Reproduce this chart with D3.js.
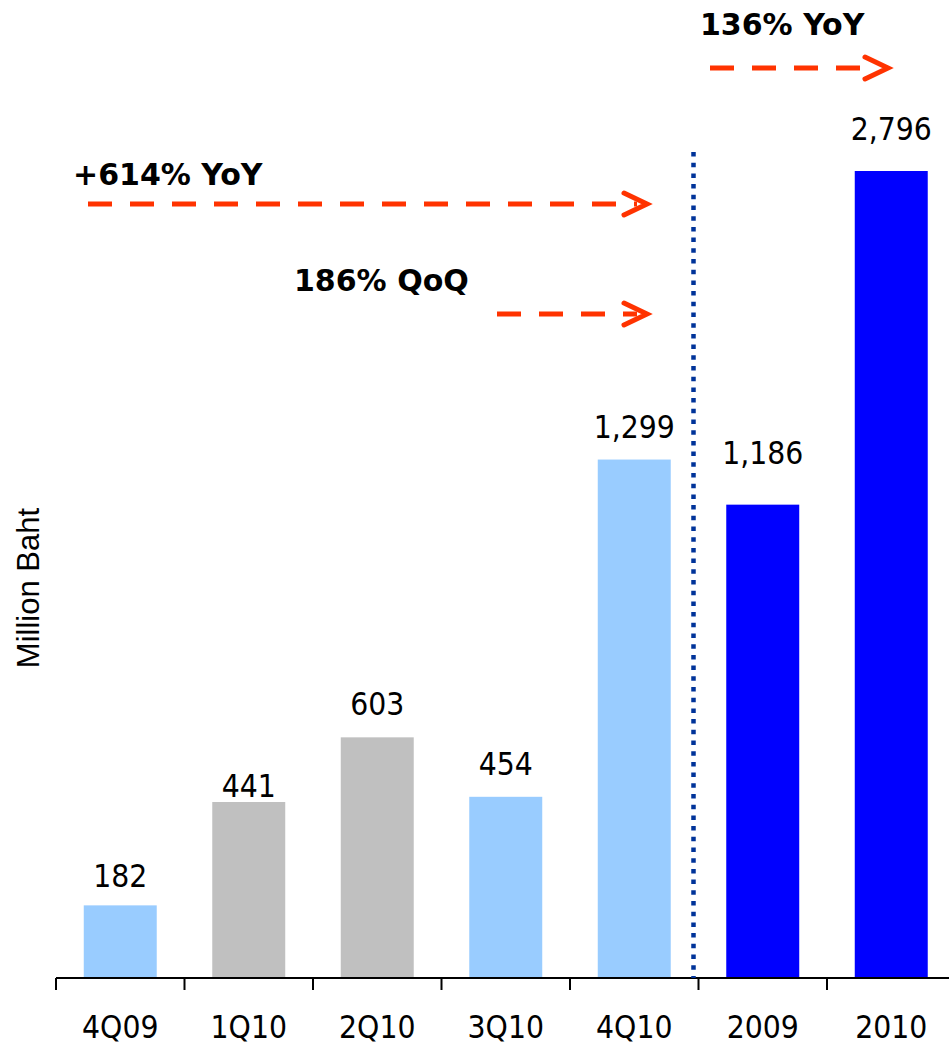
<!DOCTYPE html>
<html>
<head>
<meta charset="utf-8">
<script src="https://cdn.jsdelivr.net/npm/d3@7"></script>
<style>
  html, body { margin: 0; padding: 0; background: #fff; }
  svg { display: block; }
</style>
</head>
<body>
<svg id="chart" width="949" height="1049"></svg>
<script>
// Net profit by period (Million Baht)
const categories = ["4Q09", "1Q10", "2Q10", "3Q10", "4Q10", "2009", "2010"];
const values = [182, 441, 603, 454, 1299, 1186, 2796];
const groups = ["quarter", "quarter10", "quarter10", "quarter", "quarter", "year", "year"];
const valueLabels = ["182", "441", "603", "454", "1,299", "1,186", "2,796"];
const growthNotes = ["+614% YoY", "186% QoQ", "136% YoY"];
const axisTitle = "Million Baht";

const fillByGroup = { quarter: "#99ccff", quarter10: "#c0c0c0", year: "#0000ff" };
const labelFont = "'DejaVu Sans Condensed', 'DejaVu Sans', sans-serif";
const accent = "#ff3300";

const svg = d3.select("#chart");

const baseY = 978, topY = 171;
const x = d3.scaleBand()
  .domain(categories)
  .range([56, 955.5])
  .paddingInner(0.432)
  .paddingOuter(0.216);

// value axis is capped at the plot top; the 2010 bar runs into that cap
const y = d3.scaleLinear().domain([0, 2022]).range([baseY, topY]).clamp(true);

// bars
svg.append("g").selectAll("rect")
  .data(categories)
  .join("rect")
  .attr("x", d => x(d))
  .attr("width", x.bandwidth())
  .attr("y", (d, i) => y(values[i]))
  .attr("height", (d, i) => baseY - y(values[i]))
  .attr("fill", (d, i) => fillByGroup[groups[i]]);

// value labels (a few sit a little off the default lift)
const labelLift = [18, 5, 22, 22, 22, 41, 31];
svg.append("g").selectAll("text")
  .data(categories)
  .join("text")
  .attr("x", d => x(d) + x.bandwidth() / 2)
  .attr("y", (d, i) => y(values[i]) - labelLift[i])
  .attr("text-anchor", "middle")
  .attr("font-family", labelFont)
  .attr("font-size", 31.5)
  .attr("fill", "#000")
  .text((d, i) => valueLabels[i]);

// category axis
const axis = svg.append("g")
  .attr("transform", `translate(0,${baseY})`);
axis.append("line")
  .attr("x1", 56).attr("x2", 949)
  .attr("stroke", "#000").attr("stroke-width", 2);
const boundaries = d3.range(categories.length + 1).map(i => x.range()[0] + i * x.step());
axis.selectAll("line.tick")
  .data(boundaries)
  .join("line")
  .attr("class", "tick")
  .attr("x1", d => d).attr("x2", d => d)
  .attr("y1", 0).attr("y2", 12)
  .attr("stroke", "#000").attr("stroke-width", 2);
axis.selectAll("text")
  .data(categories)
  .join("text")
  .attr("x", d => x(d) + x.bandwidth() / 2)
  .attr("y", 60)
  .attr("text-anchor", "middle")
  .attr("font-family", labelFont)
  .attr("font-size", 31.5)
  .attr("fill", "#000")
  .text(d => d);

// divider between quarterly and annual figures
const dividerX = x("2009") - x.step() * x.paddingInner() / 2 - 5;
svg.append("line")
  .attr("x1", dividerX).attr("x2", dividerX)
  .attr("y1", 152).attr("y2", baseY)
  .attr("stroke", "#003399")
  .attr("stroke-width", 4.5)
  .attr("stroke-dasharray", "4.5 6.2");

// y axis title
svg.append("text")
  .attr("transform", "translate(39,588) rotate(-90)")
  .attr("text-anchor", "middle")
  .attr("font-family", "'Liberation Sans', Arial, sans-serif")
  .attr("font-size", 31)
  .attr("fill", "#000")
  .text(axisTitle);

// growth call-outs: bold note plus dashed arrow
const notes = [
  { text: growthNotes[0], tx: 73, ty: 185, x1: 88, x2: 647, ay: 204 },
  { text: growthNotes[1], tx: 294, ty: 291, x1: 497, x2: 647, ay: 314 },
  { text: growthNotes[2], tx: 700, ty: 35, x1: 710, x2: 888, ay: 68 }
];
const noteG = svg.append("g");
notes.forEach(n => {
  noteG.append("text")
    .attr("x", n.tx).attr("y", n.ty)
    .attr("font-family", "'DejaVu Sans', Verdana, sans-serif")
    .attr("font-weight", "bold")
    .attr("font-size", 30)
    .attr("fill", "#000")
    .text(n.text);
  noteG.append("line")
    .attr("x1", n.x1).attr("x2", n.x2 - 10)
    .attr("y1", n.ay).attr("y2", n.ay)
    .attr("stroke", accent)
    .attr("stroke-width", 5)
    .attr("stroke-dasharray", "24 18");
  noteG.append("path")
    .attr("d", `M${n.x2 - 23},${n.ay - 11} L${n.x2},${n.ay} L${n.x2 - 23},${n.ay + 11}`)
    .attr("fill", "none")
    .attr("stroke", accent)
    .attr("stroke-width", 5)
    .attr("stroke-linecap", "round")
    .attr("stroke-linejoin", "miter");
});
</script>
</body>
</html>
